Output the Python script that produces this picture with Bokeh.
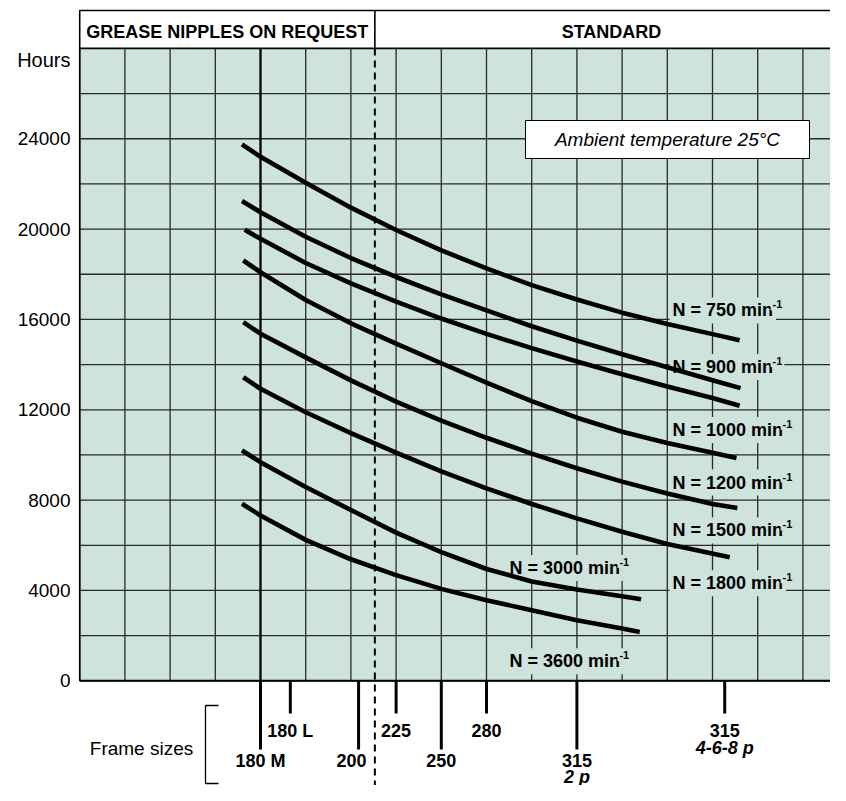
import numpy as np
from bokeh.plotting import figure
from bokeh.models import Range1d, ColumnDataSource
from bokeh.core.properties import value
from bokeh.embed import file_html
from bokeh.resources import INLINE

# ---------------- data ----------------
y_tick_values = [0, 4000, 8000, 12000, 16000, 20000, 24000]
y_tick_labels = ["0", "4000", "8000", "12000", "16000", "20000", "24000"]

# frame-size marks along the horizontal position axis (grid units)
frame_names = ["180 M", "180 L", "200", "225", "250", "280", "315", "315"]
frame_sub = ["", "", "", "", "", "", "2 p", "4-6-8 p"]
frame_pos = [4.0, 4.66, 6.17, 7.0, 8.0, 9.0, 11.0, 14.27]
frame_long = [True, False, True, False, True, False, True, False]
boundary_pos = 6.53   # limit between "grease nipples on request" and "standard"

# lubrication interval curves (hours) versus frame position
x_750 = [3.59, 4, 5, 6, 7, 8, 9, 10, 11, 12, 13, 14, 14.6]
h_750 = [23750, 23200, 22050, 20950, 19960, 19060, 18260, 17520, 16880, 16300, 15800, 15350, 15080]
x_900 = [3.59, 4, 5, 6, 7, 8, 9, 10, 11, 12, 13, 14, 14.62]
h_900 = [21240, 20750, 19660, 18720, 17880, 17110, 16400, 15700, 15060, 14460, 13880, 13310, 12960]
x_1000 = [3.65, 4, 5, 6, 7, 8, 9, 10, 11, 12, 13, 14, 14.6]
h_1000 = [19970, 19570, 18500, 17600, 16790, 16040, 15360, 14730, 14140, 13570, 13030, 12520, 12180]
x_1200 = [3.62, 4, 5, 6, 7, 8, 9, 10, 11, 12, 13, 14, 14.53]
h_1200 = [18610, 18090, 16860, 15830, 14930, 14060, 13200, 12380, 11650, 11030, 10530, 10100, 9870]
x_1500 = [3.62, 4, 5, 6, 7, 8, 9, 10, 11, 12, 13, 14, 14.55]
h_1500 = [15880, 15370, 14320, 13300, 12360, 11520, 10760, 10060, 9410, 8820, 8290, 7830, 7650]
x_1800 = [3.62, 4, 5, 6, 7, 8, 9, 10, 11, 12, 13, 14.38]
h_1800 = [13440, 12930, 11890, 10970, 10100, 9270, 8520, 7830, 7190, 6600, 6060, 5470]
x_3000 = [3.59, 4, 5, 6, 7, 8, 9, 10, 11, 12, 12.42]
h_3000 = [10200, 9680, 8580, 7560, 6560, 5700, 4950, 4400, 4040, 3740, 3610]
x_3600 = [3.59, 4, 5, 6, 7, 8, 9, 10, 11, 12, 12.39]
h_3600 = [7840, 7320, 6240, 5380, 4680, 4070, 3570, 3120, 2680, 2320, 2160]

speeds = ["750", "900", "1000", "1200", "1500", "1800", "3000", "3600"]
label_x = [13.05, 13.05, 13.05, 13.05, 13.05, 13.05, 9.44, 9.44]
label_y = [16400, 13890, 11110, 8780, 6660, 4320, 5000, 870]

# ---------------- layout helpers (reference pixel -> data) ----------------
W, H = 830, 785
UX, UY = 45.2, 45.17          # pixels per grid unit
X0, Y0 = 79.2, 680.3           # pixel position of data origin
def X(px):
    return (px - X0) / UX
def Y(py):
    return (Y0 - py) / UY * 2000

BG = "#cde3dc"
GRID = "#2a2a2a"
FN = "Liberation Sans"
FB = "18px"   # bold labels
FR = "19px"   # regular labels

p = figure(width=W, height=H, output_backend="svg", toolbar_location=None,
           x_range=Range1d(X(0), X(W)), y_range=Range1d(Y(H), Y(0)),
           x_axis_type=None, y_axis_type=None, min_border=0,
           outline_line_color=None, background_fill_color="white",
           border_fill_color="white")
p.xgrid.visible = False
p.ygrid.visible = False

# plot background
ncols = 17
top_val = 28000
p.quad(left=[0], right=[ncols + 1], bottom=[0], top=[top_val], fill_color=BG, line_color=None)

# grid
vx = list(range(0, ncols + 1))
p.segment(x0=vx, y0=[0] * len(vx), x1=vx, y1=[top_val] * len(vx), line_color=GRID, line_width=1.3)
hy = list(range(0, top_val + 1, 2000))
p.segment(x0=[0] * len(hy), y0=hy, x1=[ncols + 1] * len(hy), y1=hy, line_color=GRID, line_width=1.3)
p.segment(x0=[0], y0=[0], x1=[0], y1=[top_val], line_color="black", line_width=1.6)
p.segment(x0=[0], y0=[0], x1=[ncols + 1], y1=[0], line_color="black", line_width=2)

# header
p.quad(left=[0], right=[ncols + 1], bottom=[top_val], top=[Y(10)], fill_color="white",
       line_color="black", line_width=1.6)
p.segment(x0=[boundary_pos], y0=[top_val], x1=[boundary_pos], y1=[Y(10)], line_color="black", line_width=1.6)
p.text(x=[boundary_pos / 2], y=[Y(31)], text=["GREASE NIPPLES ON REQUEST"],
       text_font=value(FN), text_font_style="bold", text_font_size=FB,
       text_align="center", text_baseline="middle", text_color="black")
p.text(x=[X(611)], y=[Y(31)], text=["STANDARD"],
       text_font=value(FN), text_font_style="bold", text_font_size=FB,
       text_align="center", text_baseline="middle", text_color="black")

# dashed boundary
p.segment(x0=[boundary_pos], y0=[top_val], x1=[boundary_pos], y1=[Y(785)],
          line_color="black", line_width=2, line_dash="7 5")

# frame-size marks
long_end = Y(749)
short_end = Y(713)
tick_end = [long_end if lg else short_end for lg in frame_long]
p.segment(x0=frame_pos, y0=[0] * len(frame_pos), x1=frame_pos, y1=tick_end, line_color="black", line_width=3)
# 180 M line across the chart
p.segment(x0=[frame_pos[0]], y0=[top_val], x1=[frame_pos[0]], y1=[0], line_color="black", line_width=2.2)

lab_y = [Y(760) if lg else Y(730) for lg in frame_long]
lab_dx = [0, 0, -7, 0, 0, 0, 0, 0]
src_f = ColumnDataSource(dict(x=frame_pos, y=lab_y, t=frame_names, dx=lab_dx))
p.text(x="x", y="y", text="t", x_offset="dx", source=src_f, text_font=value(FN), text_font_style="bold",
       text_font_size=FB, text_align="center", text_baseline="middle", text_color="black")
sub_y = [Y(776) if lg else Y(747) for lg in frame_long]
src_s = ColumnDataSource(dict(x=frame_pos, y=sub_y, t=frame_sub))
p.text(x="x", y="y", text="t", source=src_s, text_font=value(FN), text_font_style="bold italic",
       text_font_size=FB, text_align="center", text_baseline="middle", text_color="black")

# "Frame sizes" with bracket
p.text(x=[X(141)], y=[Y(748)], text=["Frame sizes"], text_font=value(FN), text_font_size=FR,
       text_align="center", text_baseline="middle", text_color="black")
p.line(x=[X(218), X(205), X(205), X(218)], y=[Y(705), Y(705), Y(783), Y(783)],
       line_color="black", line_width=1.3)

# y tick labels
p.text(x=[X(70)] * len(y_tick_values), y=y_tick_values, text=y_tick_labels, text_font=value(FN),
       text_font_size=FR, text_align="right", text_baseline="middle", text_color="black")
p.text(x=[X(70)], y=[Y(59)], text=["Hours"], text_font=value(FN),
       text_font_size="20px", text_align="right", text_baseline="middle", text_color="black")

# ambient box
p.quad(left=[X(525)], right=[X(809)], bottom=[Y(158)], top=[Y(120)], fill_color="white",
       line_color="black", line_width=1)
p.text(x=[X(667)], y=[Y(139)], text=["Ambient temperature 25\u00b0C"], text_font=value(FN),
       text_font_style="italic", text_font_size=FR, text_align="center",
       text_baseline="middle", text_color="black")

# curve labels  "N = xxx min" + superscript "-1" (drawn before the curves)
wtab = {"N": 722, " ": 278, "=": 584, "m": 889, "i": 278, "n": 611}
main_txt = [f"N = {s} min" for s in speeds]
def tw(s):
    return sum(wtab.get(c, 556) for c in s) / 1000 * 18
sup_dx = [tw(t) + 0.5 for t in main_txt]
src_l = ColumnDataSource(dict(x=label_x, y=label_y, t=main_txt, dx=sup_dx, s=["-1"] * len(speeds)))
p.text(x="x", y="y", text="t", source=src_l, text_font=value(FN), text_font_style="bold",
       text_font_size=FB, text_align="left", text_baseline="alphabetic", text_color="black",
       background_fill_color=BG, padding=3)
p.text(x="x", y="y", text="s", x_offset="dx", y_offset=-6, source=src_l, text_font=value(FN),
       text_font_style="bold", text_font_size="11px", text_align="left", text_baseline="alphabetic",
       text_color="black", background_fill_color=BG, padding=2)

# curves
curves_x = [x_750, x_900, x_1000, x_1200, x_1500, x_1800, x_3000, x_3600]
curves_h = [h_750, h_900, h_1000, h_1200, h_1500, h_1800, h_3000, h_3600]
for cx, ch in zip(curves_x, curves_h):
    p.line(x=cx, y=ch, line_color="black", line_width=4.6, line_join="round")

open("out.html", "w").write(file_html(p, INLINE))
